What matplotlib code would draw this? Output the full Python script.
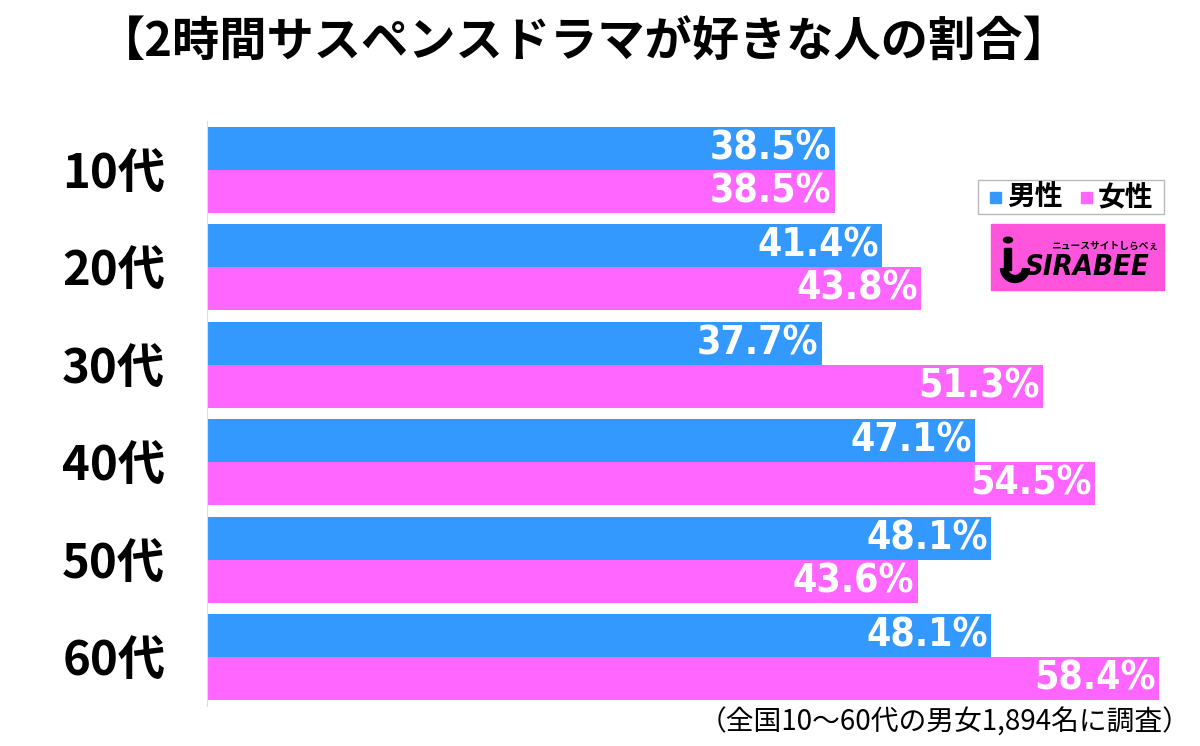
import matplotlib.pyplot as plt
import numpy as np
from matplotlib.patches import Rectangle, Circle, Arc

plt.rcParams['font.family'] = ['Noto Sans CJK JP', 'DejaVu Sans']

# data
ages = ['10代', '20代', '30代', '40代', '50代', '60代']
male = [38.5, 41.4, 37.7, 47.1, 48.1, 48.1]
female = [38.5, 43.8, 51.3, 54.5, 43.6, 58.4]

blue = '#3399FF'
pink = '#FF66FF'

fig = plt.figure(figsize=(12, 7.46), dpi=100)
ax = fig.add_axes([0.1725, 0.0536, 0.815, 0.7844])

y = np.arange(len(ages))
h = 0.44
ax.barh(y - h / 2, male, height=h, color=blue)
ax.barh(y + h / 2, female, height=h, color=pink)

num_font = ['DejaVu Sans']
for i in range(len(ages)):
    ax.text(male[i] - 0.2, y[i] - h / 2, f'{male[i]:.1f}%', color='white',
            fontsize=28, fontweight='bold', fontstretch='condensed',
            ha='right', va='center', family=num_font)
    ax.text(female[i] - 0.2, y[i] + h / 2, f'{female[i]:.1f}%', color='white',
            fontsize=28, fontweight='bold', fontstretch='condensed',
            ha='right', va='center', family=num_font)

ax.set_xlim(0, 60)
ax.set_ylim(len(ages) - 0.5, -0.5)
ax.set_yticks(y)
ax.set_yticklabels(ages, fontsize=34, fontweight='bold')
ax.tick_params(axis='y', length=0, pad=30)
ax.set_xticks([])
for s in ['top', 'right', 'bottom']:
    ax.spines[s].set_visible(False)
ax.spines['left'].set_color('#dddddd')

fig.text(0.487, 0.943, '【2時間サスペンスドラマが好きな人の割合】', fontsize=34,
         fontweight='bold', ha='center', va='center')
fig.text(0.992, 0.032, '（全国10～60代の男女1,894名に調査）', fontsize=20,
         ha='right', va='center')

# legend box
fig.patches.append(Rectangle((978 / 1200, 1 - 214 / 746), 186 / 1200, 34 / 746,
                             transform=fig.transFigure, facecolor='white',
                             edgecolor='#bbbbbb', lw=1))
fig.patches.append(Rectangle((990 / 1200, 1 - 203 / 746), 11 / 1200, 11 / 746,
                             transform=fig.transFigure, color=blue))
fig.text(1007 / 1200, 1 - 197 / 746, '男性', fontsize=20, fontweight='bold', va='center')
fig.patches.append(Rectangle((1081 / 1200, 1 - 203 / 746), 11 / 1200, 11 / 746,
                             transform=fig.transFigure, color=pink))
fig.text(1098 / 1200, 1 - 197 / 746, '女性', fontsize=20, fontweight='bold', va='center')

# logo
fig.patches.append(Rectangle((991 / 1200, 1 - 290 / 746), 173 / 1200, 66 / 746,
                             transform=fig.transFigure, color='#FF55DD'))
fig.text(1087 / 1200, 1 - 267 / 746, 'SIRABEE', fontsize=21, fontweight='bold',
         fontstretch='condensed', style='italic', ha='center', va='center',
         family=num_font)
fig.text(1105 / 1200, 1 - 246 / 746, 'ニュースサイトしらべぇ', fontsize=7,
         fontweight='bold', ha='center', va='center')
# little "i" figure of the logo
fig.patches.append(Circle((1008 / 1200, 1 - 240 / 746), 4.5 / 1200,
                          transform=fig.transFigure, color='black'))
fig.patches.append(Rectangle((1004 / 1200, 1 - 270 / 746), 7 / 1200, 22 / 746,
                             transform=fig.transFigure, color='black'))
fig.patches.append(Arc((1015 / 1200, 1 - 268 / 746), 22 / 1200, 22 / 746,
                       theta1=180, theta2=360, transform=fig.transFigure,
                       color='black', lw=6))

fig.savefig('out.png', dpi=100)
